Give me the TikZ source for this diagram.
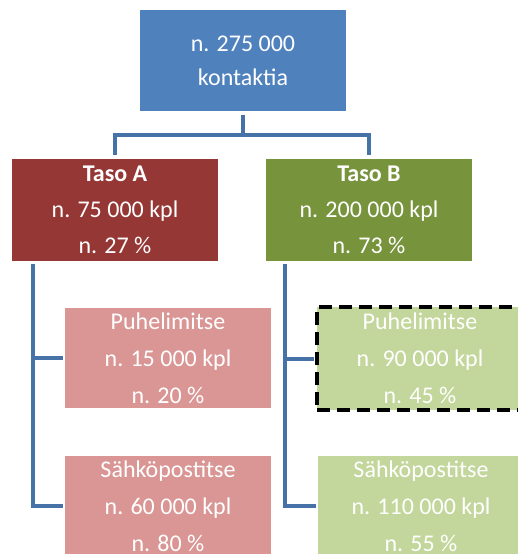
\documentclass[tikz,border=0pt]{standalone}
\usepackage{fontspec}
\setmainfont{Carlito}
\definecolor{topblue}{HTML}{4F81BD}
\definecolor{tasoAred}{HTML}{953735}
\definecolor{tasoBgreen}{HTML}{77933C}
\definecolor{pinkA}{HTML}{D99694}
\definecolor{lgreenB}{HTML}{C3D69B}
\definecolor{linkblue}{RGB}{70,114,168}
\begin{document}
\begin{tikzpicture}[x=1pt,y=-1pt,
  box/.style={rectangle, anchor=north west, minimum width=206pt, minimum height=101pt,
    inner sep=0pt, outer sep=0pt, text=white, align=center, font=\fontsize{24}{36}\selectfont},
  subbox/.style={box, minimum height=100pt, font=\fontsize{24}{37}\selectfont},
  conn/.style={draw=linkblue, line width=4pt, line join=miter}]
\useasboundingbox (0,0) rectangle (518,554);
\clip (0,0) rectangle (518,554);
\node[box, fill=topblue, font=\fontsize{24}{34}\selectfont] (top) at (140,10) {n. 275 000\\kontaktia};
\node[box, fill=tasoAred, minimum height=102pt] (tA) at (12,159) {\textbf{Taso A}\\n. 75 000 kpl\\n. 27 \%};
\node[box, fill=tasoBgreen, minimum height=102pt] (tB) at (266,159) {\textbf{Taso B}\\n. 200 000 kpl\\n. 73 \%};
\node[subbox, fill=pinkA] (pA) at (65,308) {Puhelimitse\\n. 15 000 kpl\\n. 20 \%};
\node[subbox, fill=lgreenB, draw=black, line width=3.5pt, dash pattern=on 13pt off 7pt, minimum height=103pt] (pB) at (317,307) {Puhelimitse\\n. 90 000 kpl\\n. 45 \%};
\node[subbox, fill=pinkA] (sA) at (65,456) {Sähköpostitse\\n. 60 000 kpl\\n. 80 \%};
\node[subbox, fill=lgreenB] (sB) at (318,456) {Sähköpostitse\\n. 110 000 kpl\\n. 55 \%};
\draw[conn, shorten <=4pt, shorten >=4pt] (top.south) -- ++(0,24) -| (tA.north);
\draw[conn, shorten <=4pt, shorten >=4pt] (top.south) -- ++(0,24) -| (tB.north);
\draw[conn, shorten <=3pt, shorten >=2pt] ([xshift=21pt]tA.south west) |- (pA.west);
\draw[conn, shorten <=3pt, shorten >=2pt] ([xshift=21pt]tA.south west) |- (sA.west);
\draw[conn, shorten <=3pt, shorten >=3pt] ([xshift=19pt]tB.south west) |- (pB.west);
\draw[conn, shorten <=3pt, shorten >=2pt] ([xshift=19pt]tB.south west) |- (sB.west);
\end{tikzpicture}
\end{document}
